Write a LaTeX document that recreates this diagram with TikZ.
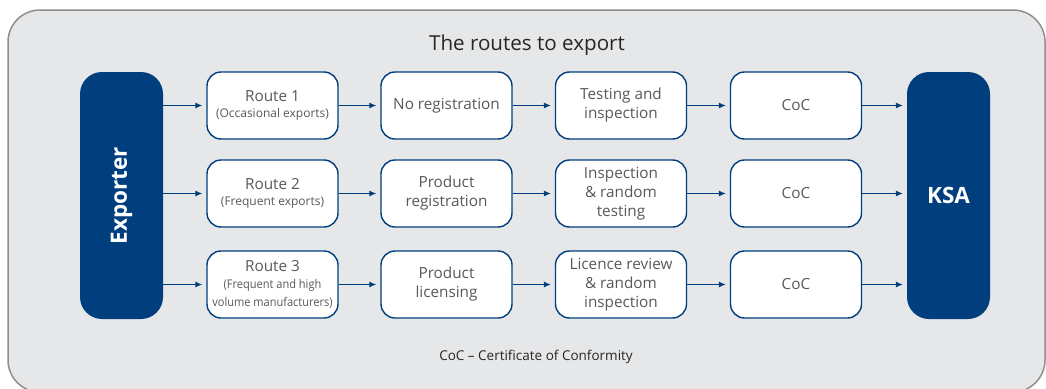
\documentclass[tikz,border=0pt]{standalone}
\usepackage{fontspec}
\setmainfont{Open Sans}
\usetikzlibrary{arrows.meta}
\definecolor{bgray}{HTML}{E6E7E9}
\definecolor{frame}{HTML}{8E8E8E}
\definecolor{navy}{HTML}{003E7E}
\definecolor{txt}{HTML}{58595B}
\newcommand\subsz{\fontsize{12}{16}\selectfont}
\newcommand\subnarrow[1]{\scalebox{0.92}[1]{\fontsize{12}{16}\selectfont #1}}
\begin{document}
\begin{tikzpicture}[x=1pt,y=-1pt,
  stepbox/.style={draw=navy,line width=1.4pt,fill=white,rounded corners=14pt,minimum width=131pt,minimum height=67pt,align=center,text=txt,font=\fontsize{15.3}{19}\selectfont,inner sep=0pt},
  bigbox/.style={fill=navy,rounded corners=22pt,minimum width=83pt,minimum height=247pt,text=white,font=\fontsize{22.5}{24}\selectfont\bfseries,inner sep=0pt},
  conn/.style={draw=navy,line width=1pt,-{Latex[length=7pt,width=6pt]},shorten >=4pt}
]
\useasboundingbox (0,0) rectangle (1046,388);
\draw[fill=bgray,draw=frame,line width=1.5pt,rounded corners=32pt] (8,10) rectangle (1045,392);
\node[font=\fontsize{20.6}{22}\selectfont,text=black!85] (title) at (527,45) {The routes to export};
\node[bigbox] (exp) at (121.5,195.5) {\rotatebox{90}{Exporter}};
\node[bigbox] (ksa) at (948.5,195.5) {KSA};
% row 1
\node[stepbox] (r1) at (272.5,105.5) {Route 1\\[-3pt]{\subsz(Occasional exports)}};
\node[stepbox] (n1) at (446.5,105.5) {No registration};
\node[stepbox] (t1) at (621,105.5) {Testing and\\inspection};
\node[stepbox] (c1) at (796,105.5) {CoC};
% row 2
\node[stepbox] (r2) at (272.5,193.5) {Route 2\\[-3pt]{\subsz(Frequent exports)}};
\node[stepbox] (n2) at (446.5,193.5) {Product\\registration};
\node[stepbox] (t2) at (621,193.5) {Inspection\\\&\ random\\testing};
\node[stepbox] (c2) at (796,193.5) {CoC};
% row 3
\node[stepbox] (r3) at (272.5,284.5) {Route 3\\[-2pt]\subnarrow{(Frequent and high}\\[-1pt]\subnarrow{volume manufacturers)}};
\node[stepbox] (n3) at (446.5,284.5) {Product\\licensing};
\node[stepbox] (t3) at (621,284.5) {Licence review\\\&\ random\\inspection};
\node[stepbox] (c3) at (796,284.5) {CoC};
\foreach \r in {1,2,3}{
  \draw[conn] (exp.east |- r\r.west) -- (r\r.west);
  \draw[conn] (r\r) -- (n\r);
  \draw[conn] (n\r) -- (t\r);
  \draw[conn] (t\r) -- (c\r);
  \draw[conn] (c\r.east) -- (ksa.west |- c\r.east);
}
\node[font=\fontsize{13.5}{15}\selectfont,text=black!85] (foot) at (536,357) {CoC – Certificate of Conformity};
\end{tikzpicture}
\end{document}
